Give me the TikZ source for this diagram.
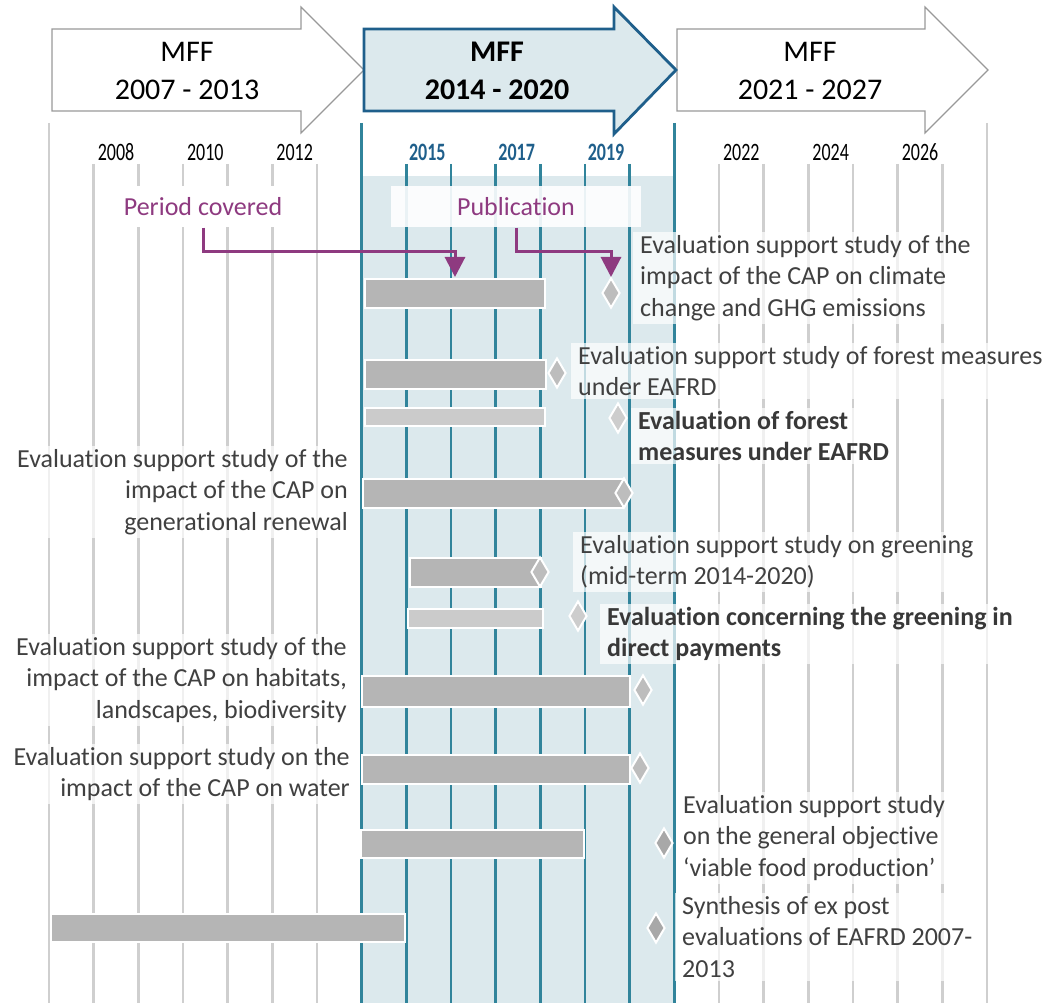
\documentclass[tikz,border=0pt]{standalone}
\usepackage{fontspec}
\usepackage{graphicx}
\setmainfont{Carlito}[Ligatures=NoCommon]
\usetikzlibrary{arrows.meta,shapes.geometric}
\definecolor{tealline}{HTML}{31849B}
\definecolor{tealfill}{HTML}{DCE9ED}
\definecolor{darkblue}{HTML}{1F5F8B}
\definecolor{gridgray}{HTML}{CFCFCF}
\definecolor{txtgray}{HTML}{404040}
\definecolor{purp}{HTML}{8E3A80}
\definecolor{barfill}{HTML}{B5B5B5}
\definecolor{lbarfill}{HTML}{CBCBCB}
\definecolor{diafill}{HTML}{BDBDBD}
\definecolor{ldiafill}{HTML}{CDCDCD}
\definecolor{ddiafill}{HTML}{A8A8A8}
\newcommand\txtsz{\fontsize{26}{31.5}\selectfont}
\newcommand\mffsz{\fontsize{30}{36}\selectfont}
\newcommand\yrsz{\fontsize{25}{29}\selectfont}
\begin{document}
\begin{tikzpicture}[x=1pt,y=-1pt,
  gridline/.style={gridgray,line width=2.6pt},
  tealv/.style={tealline,line width=2.8pt},
  mffarrow/.style={draw=gray!80,line width=1.2pt,fill=white},
  mffcur/.style={draw=darkblue,line width=2.8pt,fill=tealfill},
  mfftext/.style={font=\mffsz,align=center,text=black},
  yr/.style={font=\yrsz,text=black},
  yrb/.style={font=\yrsz\bfseries,text=darkblue},
  lab/.style={fill=white,fill opacity=0.7,text opacity=1,text=txtgray,font=\txtsz,inner xsep=7pt,inner ysep=3pt},
  labb/.style={lab,font=\txtsz\bfseries,text=black!78},
  bar/.style={draw=white,line width=2pt,fill=barfill,inner sep=0pt,anchor=north west},
  lbar/.style={bar,fill=lbarfill},
  dia/.style={diamond,draw=white,line width=2pt,fill=diafill,inner sep=0pt,minimum width=18pt,minimum height=30pt},
  ldia/.style={dia,fill=ldiafill},
  ddia/.style={dia,fill=ddiafill},
  parrow/.style={purp,line width=3pt,-{Triangle[width=20pt,length=20pt]}},
  plab/.style={text=purp,font=\txtsz,minimum height=41pt,inner sep=0pt}
]
\useasboundingbox (0,0) rectangle (1053,1003);
% shaded period
\fill[tealfill] (362,176) rectangle (675,1003);
% grid lines
\foreach \i in {1,...,6,15,16,...,20}{
  \draw[gridline] ({49+44.667*\i},164) -- ({49+44.667*\i},1003);}
\foreach \i in {0,21}{
  \draw[gridline] ({49+44.667*\i},123) -- ({49+44.667*\i},1003);}
\foreach \i in {8,...,13}{
  \draw[tealv] ({49+44.667*\i},164) -- ({49+44.667*\i},1003);}
\foreach \i in {7,14}{
  \draw[tealv] ({49+44.667*\i},123) -- ({49+44.667*\i},1003);}
% MFF arrows
\draw[mffarrow] (52,29) -- (301,29) -- (301,7) -- (364,70) -- (301,133) -- (301,111) -- (52,111) -- cycle;
\draw[mffarrow] (677,29) -- (925,29) -- (925,7) -- (988,70) -- (925,133) -- (925,111) -- (677,111) -- cycle;
\draw[mffcur] (364,29) -- (614,29) -- (614,7) -- (676,70) -- (614,134) -- (614,111) -- (364,111) -- cycle;
\node[mfftext] (m1a) at (187,52) {MFF};
\node[mfftext] (m1b) at (187,90) {2007 - 2013};
\node[mfftext,font=\mffsz\bfseries] (m2a) at (497,52) {MFF};
\node[mfftext,font=\mffsz\bfseries] (m2b) at (497,90) {2014 - 2020};
\node[mfftext] (m3a) at (810,52) {MFF};
\node[mfftext] (m3b) at (810,90) {2021 - 2027};
% year labels
\foreach \i/\y in {1/2008,3/2010,5/2012,15/2022,17/2024,19/2026}{
  \node[yr] (y\y) at ({49+44.667*\i+22.33},152) {\scalebox{0.72}[1]{\y}};}
\foreach \i/\y in {8/2015,10/2017,12/2019}{
  \node[yrb] (y\y) at ({49+44.667*\i+21},152) {\scalebox{0.72}[1]{\y}};}
% period / publication labels
\node[plab,fill=white,minimum width=185pt] (period) at (203,207) {Period covered};
\node[plab,fill=white,fill opacity=0.9,text opacity=1,minimum width=250pt] (pub) at (516,207) {Publication};
% text labels
\node[lab,anchor=west,align=left] (t1) at (633,278) {Evaluation support study of the\\impact of the CAP on climate\\change and GHG emissions};
\node[lab,anchor=west,align=left] (t2) at (571,371) {Evaluation support study of forest measures\\under EAFRD};
\node[labb,anchor=west,align=left] (t3) at (631,436) {Evaluation of forest\\measures under EAFRD};
\node[lab,anchor=east,align=right] (t4) at (355,492) {Evaluation support study of the\\impact of the CAP on\\generational renewal};
\node[lab,anchor=west,align=left] (t5) at (573,562) {Evaluation support study on greening\\(mid-term 2014-2020)};
\node[labb,anchor=west,align=left] (t6) at (600,634) {Evaluation concerning the greening in\\direct payments};
\node[lab,anchor=east,align=right] (t7) at (354,680) {Evaluation support study of the\\impact of the CAP on habitats,\\landscapes, biodiversity};
\node[lab,anchor=east,align=right] (t8) at (357,774) {Evaluation support study on the\\impact of the CAP on water};
\node[lab,anchor=west,align=left] (t9) at (676,838) {Evaluation support study\\on the general objective\\‘viable food production’};
\node[lab,anchor=west,align=left] (t10) at (675,937) {Synthesis of ex post\\evaluations of EAFRD 2007-\\2013};
% bars
\node[bar,minimum width=180pt,minimum height=29pt] (b1) at (364,278) {};
\node[bar,minimum width=181pt,minimum height=29pt] (b2) at (364,359) {};
\node[lbar,minimum width=180pt,minimum height=18pt] (b3) at (364,407) {};
\node[bar,minimum width=260pt,minimum height=29pt] (b4) at (362,478) {};
\node[bar,minimum width=131pt,minimum height=29pt] (b5) at (409,557) {};
\node[lbar,minimum width=135pt,minimum height=19pt] (b6) at (407,608) {};
\node[bar,minimum width=268pt,minimum height=31pt] (b7) at (361,675) {};
\node[bar,minimum width=268pt,minimum height=29pt] (b8) at (361,754) {};
\node[bar,minimum width=223pt,minimum height=28pt] (b9) at (360,829) {};
\node[bar,minimum width=354pt,minimum height=28pt] (b10) at (50,913) {};
% diamonds
\node[dia] (d1) at (611,293) {};
\node[dia] (d2) at (557,373) {};
\node[ldia] (d3) at (618,418) {};
\node[dia] (d4) at (624,493) {};
\node[dia] (d5) at (540,572) {};
\node[ldia] (d6) at (578,616) {};
\node[dia] (d7) at (643,690) {};
\node[dia] (d8) at (640,768) {};
\node[ddia] (d9) at (664,843) {};
\node[ddia] (d10) at (656,928) {};
% purple connectors
\coordinate (k1) at (455,252);
\coordinate (e1) at (455,277);
\coordinate (k2) at (611,252);
\draw[parrow] (period.south) |- (k1) -- (e1);
\draw[parrow] (pub.south) |- (k2) -- (d1.north);
\end{tikzpicture}
\end{document}
